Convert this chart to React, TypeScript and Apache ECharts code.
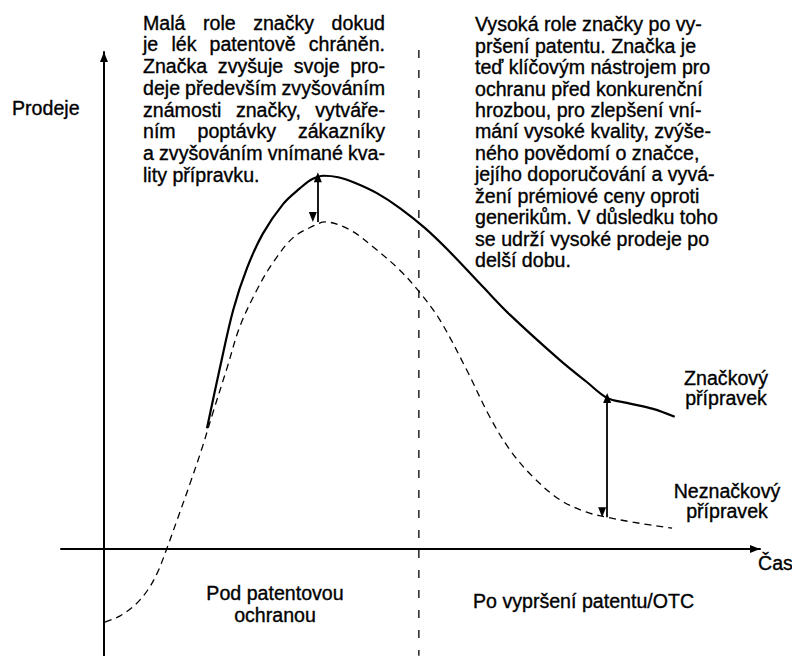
import React, { useEffect, useRef } from "react";
import * as echarts from "echarts";

// ---- data (x = time units, y = sales units; origin = axes crossing) ----
const brandedSales: [number, number][] = [
  [15.7, 24.3], [17.7, 36.6], [19.7, 48.1], [21.8, 56.5], [24.2, 63.4],
  [27.3, 69.4], [29.9, 72.6], [31.7, 74.4], [33.5, 75.1], [35.7, 74.8],
  [38.4, 73.6], [41.6, 71.6], [45.1, 68.6], [48.9, 64.6], [52.7, 59.8],
  [57.8, 52.7], [61.9, 47.1], [69.5, 38.0], [73.6, 33.6], [76.7, 30.4],
  [79.7, 29.4], [83.7, 28.2], [87.0, 26.6],
];
const unbrandedSales: [number, number][] = [
  [0.15, -14.7], [2.4, -13.5], [4.7, -11.3], [6.7, -8.2], [8.2, -4.6],
  [9.5, -0.2], [11.3, 6.4], [13.1, 13.1], [14.9, 20.1], [16.6, 27.4],
  [18.8, 36.6], [20.7, 44.7], [23.3, 52.1], [25.8, 57.7], [28.8, 62.6],
  [31.9, 65.0], [33.7, 65.8], [37.5, 64.2], [41.0, 60.8], [45.1, 56.1],
  [48.2, 51.5], [51.2, 46.1], [55.3, 36.0], [58.8, 26.6], [61.9, 19.9],
  [65.4, 14.5], [69.5, 9.9], [73.6, 7.4], [76.7, 6.4], [80.6, 5.4],
  [86.6, 4.2],
];
const patentExpiry = 48;
const patentLineSpan = [100.4, -21.5];
// [x, brandedValue, unbrandedValue]
const gapArrows: [number, number, number][] = [
  [32.6, 74.8, 65.8],
  [76.7, 30.4, 6.4],
];

const axisTitles = { y: "Prodeje", x: "Čas" };
const leftNote = [
  "Malá role značky dokud",
  "je lék patentově chráněn.",
  "Značka zvyšuje svoje pro-",
  "deje především zvyšováním",
  "známosti značky, vytváře-",
  "ním poptávky zákazníky",
  "a zvyšováním vnímané kva-",
  "lity přípravku.",
];
const rightNote = [
  "Vysoká role značky po vy-",
  "pršení patentu. Značka je",
  "teď klíčovým nástrojem pro",
  "ochranu před konkurenční",
  "hrozbou, pro zlepšení vní-",
  "mání vysoké kvality, zvýše-",
  "ného povědomí o značce,",
  "jejího doporučování a vyvá-",
  "žení prémiové ceny oproti",
  "generikům. V důsledku toho",
  "se udrží vysoké prodeje po",
  "delší dobu.",
];
const brandedLabel = ["Značkový", "přípravek"];
const unbrandedLabel = ["Neznačkový", "přípravek"];
const periodLabels = { before: ["Pod patentovou", "ochranou"], after: "Po vypršení patentu/OTC" };

const FONT = "'Liberation Sans', Arial, Helvetica, sans-serif";
const FS = 19.6;
const C = 0.3465 * FS; // central-to-baseline offset

function textEl(text: string, x: number, baseline: number, align: string, lh: number) {
  const top = baseline - lh / 2 - C;
  return {
    type: "text",
    x,
    y: top,
    silent: true,
    style: {
      text,
      fontSize: FS,
      fontFamily: FONT,
      fill: "#000",
      stroke: "#000",
      lineWidth: 0.35,
      lineHeight: lh,
      align,
      textAlign: align,
      verticalAlign: "top",
      textVerticalAlign: "top",
    },
  };
}

function justifiedBlock(lines: string[], x0: number, x1: number, baseline0: number, lh: number) {
  const ctx = document.createElement("canvas").getContext("2d")!;
  ctx.font = `${FS}px 'Liberation Sans', Arial, sans-serif`;
  const out: any[] = [];
  lines.forEach((line, i) => {
    const b = baseline0 + i * lh;
    const words = line.split(" ");
    if (i === lines.length - 1 || words.length < 2) {
      out.push(textEl(line, x0, b, "left", lh));
      return;
    }
    const widths = words.map((w) => ctx.measureText(w).width);
    const total = widths.reduce((a, c) => a + c, 0);
    const gap = (x1 - x0 - total) / (words.length - 1);
    let x = x0;
    words.forEach((w, k) => {
      out.push(textEl(w, x, b, "left", lh));
      x += widths[k] + gap;
    });
  });
  return out;
}

export default function App() {
  const ref = useRef<HTMLDivElement>(null);
  useEffect(() => {
    const chart = echarts.init(ref.current!, null, { renderer: "svg" });
    const axisCommon = {
      type: "value",
      axisTick: { show: false },
      axisLabel: { show: false },
      splitLine: { show: false },
    };
    chart.setOption({
      animation: false,
      backgroundColor: "#fff",
      grid: { left: 61, right: 32, top: 52, bottom: 0, containLabel: false },
      xAxis: {
        ...axisCommon,
        min: -6.55,
        max: 100,
        axisLine: {
          show: true,
          onZero: true,
          symbol: ["none", "triangle"],
          symbolSize: [8, 10],
          symbolOffset: [0, -5],
          lineStyle: { color: "#000", width: 2 },
        },
      },
      yAxis: {
        ...axisCommon,
        min: -21.53,
        max: 100,
        axisLine: {
          show: true,
          onZero: true,
          symbol: ["none", "triangle"],
          symbolSize: [8, 10],
          symbolOffset: [0, -5],
          lineStyle: { color: "#000", width: 2 },
        },
      },
      series: [
        {
          type: "line",
          data: brandedSales,
          smooth: 0.35,
          showSymbol: false,
          lineStyle: { color: "#000", width: 2.2 },
          silent: true,
        },
        {
          type: "line",
          data: unbrandedSales,
          smooth: 0.35,
          showSymbol: false,
          clip: false,
          lineStyle: { color: "#000", width: 1.3, type: [7, 5] },
          silent: true,
        },
        {
          type: "line",
          data: patentLineSpan.map((v) => [patentExpiry, v]),
          showSymbol: false,
          clip: false,
          lineStyle: { color: "#000", width: 1.3, type: [8, 12] },
          silent: true,
        },
        {
          type: "line",
          data: [],
          silent: true,
          markLine: {
            silent: true,
            animation: false,
            symbol: ["triangle", "triangle"],
            symbolSize: [8, 10],
            symbolOffset: [0, 5],
            label: { show: false },
            lineStyle: { color: "#000", width: 1.8, type: "solid" },
            data: gapArrows.map(([x, a, b]) => [{ coord: [x, a] }, { coord: [x, b] }]),
          },
        },
      ],
      graphic: [
        ...justifiedBlock(leftNote, 143, 385, 29.5, 21.7),
        textEl(rightNote.join("\n"), 475, 31, "left", 21.45),
        textEl(axisTitles.y, 12, 115, "left", 22),
        textEl(axisTitles.x, 758, 570, "left", 22),
        textEl(brandedLabel.join("\n"), 726, 385, "center", 20),
        textEl(unbrandedLabel.join("\n"), 727, 498, "center", 20),
        textEl(periodLabels.before.join("\n"), 275, 600, "center", 22),
        textEl(periodLabels.after, 473, 608, "left", 22),
      ],
    });
    return () => chart.dispose();
  }, []);
  return (
    <div
      ref={ref}
      style={{ position: "absolute", left: 0, top: 0, width: 792, height: 656, background: "#fff" }}
    />
  );
}
